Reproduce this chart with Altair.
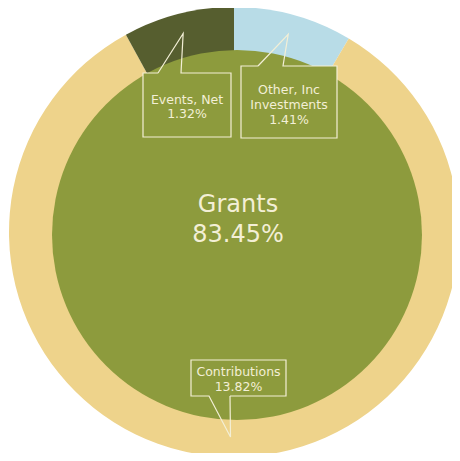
import math
import altair as alt
import pandas as pd

# ---- data ----
ring_labels = ["Other, Inc Investments", "Contributions", "Events, Net"]
ring_values = [1.41, 13.82, 1.32]
core_label = "Grants"
core_value = 83.45

# ---- layout / style ----
W, H = 444, 445
CX, CY = 226, 224          # ring centre
ICX, ICY = 229, 227        # inner circle centre
R_OUT, R_IN = 225, 185
R_TIP = 205
COLORS = {"Other, Inc Investments": "#B8DCE7", "Contributions": "#EED38B",
          "Events, Net": "#565E2F", "Grants": "#8D9B3D"}
CREAM = "#F3EFD6"
FONT = "DejaVu Sans"

# callout boxes (chart px): x0, x1, y0, y1, base xs, edge ("top"/"bottom"), text lines' baselines
boxes = {
    "Events, Net": dict(x0=135, x1=223, y0=65, y1=129, b=(150, 173), edge="top",
                        lines=["Events, Net", None], ys=[96, 110]),
    "Other, Inc Investments": dict(x0=233, x1=329, y0=58, y1=130, b=(250, 275), edge="top",
                                   lines=["Other, Inc", "Investments", None], ys=[86, 101, 116]),
    "Contributions": dict(x0=183, x1=278, y0=352, y1=388, b=(201, 222), edge="bottom",
                          lines=["Contributions", None], ys=[368, 383]),
}

ring_df = pd.DataFrame({"label": ring_labels, "value": ring_values,
                        "ord": list(range(len(ring_labels)))})
core_df = pd.DataFrame({"label": [core_label], "value": [core_value]})

# tip positions at mid-angle of each ring wedge
total = sum(ring_values)
tips = {}
acc = 0.0
for lab, v in zip(ring_labels, ring_values):
    mid = (acc + v / 2) / total * 2 * math.pi
    tips[lab] = (CX + R_TIP * math.sin(mid), CY - R_TIP * math.cos(mid))
    acc += v

rect_rows, line_rows, text_rows = [], [], []
for lab, v in zip(ring_labels, ring_values):
    b = boxes[lab]
    rect_rows.append(dict(label=lab, x0=b["x0"], x1=b["x1"], y0=b["y0"], y1=b["y1"]))
    tx, ty = tips[lab]
    if b["edge"] == "top":
        ey = b["y0"]
        pts = [(b["b"][0], ey), (tx, ty), (b["b"][1], ey), (b["x1"], ey),
               (b["x1"], b["y1"]), (b["x0"], b["y1"]), (b["x0"], ey), (b["b"][0], ey)]
    else:
        ey = b["y1"]
        pts = [(b["b"][1], ey), (tx, ty), (b["b"][0], ey), (b["x0"], ey),
               (b["x0"], b["y0"]), (b["x1"], b["y0"]), (b["x1"], ey), (b["b"][1], ey)]
    for i, (px, py) in enumerate(pts):
        line_rows.append(dict(label=lab, i=i, x=px, y=py))
    for t, yy in zip(b["lines"], b["ys"]):
        text_rows.append(dict(label=lab, text=t if t else f"{v:.2f}%",
                              x=(b["x0"] + b["x1"]) / 2, y=yy, size=12.5))
text_rows.append(dict(label=core_label, text=core_label, x=230, y=204, size=24))
text_rows.append(dict(label=core_label, text=f"{core_value:.2f}%", x=230, y=234, size=24))

rect_df = pd.DataFrame(rect_rows)
line_df = pd.DataFrame(line_rows)
text_df = pd.DataFrame(text_rows)

color_scale = alt.Scale(domain=list(COLORS.keys()), range=list(COLORS.values()))
xs = alt.Scale(domain=[0, W], nice=False, zero=False)
ys = alt.Scale(domain=[0, H], nice=False, zero=False, reverse=True)

ring = alt.Chart(ring_df).mark_arc(outerRadius=R_OUT).encode(
    theta=alt.Theta("value:Q", stack=True),
    order=alt.Order("ord:Q"),
    color=alt.Color("label:N", scale=color_scale, legend=None),
    x=alt.value(CX), y=alt.value(CY),
)
core = alt.Chart(core_df).mark_arc(outerRadius=R_IN).encode(
    theta=alt.Theta("value:Q", stack=True),
    color=alt.Color("label:N", scale=color_scale, legend=None),
    x=alt.value(ICX), y=alt.value(ICY),
)
rects = alt.Chart(rect_df).mark_rect(fill=COLORS["Grants"]).encode(
    x=alt.X("x0:Q", scale=xs, axis=None), x2="x1:Q",
    y=alt.Y("y0:Q", scale=ys, axis=None), y2="y1:Q",
)
outlines = alt.Chart(line_df).mark_line(color=CREAM, strokeWidth=1.2).encode(
    x=alt.X("x:Q", scale=xs, axis=None),
    y=alt.Y("y:Q", scale=ys, axis=None),
    order="i:Q", detail="label:N",
)
texts = alt.Chart(text_df).mark_text(color=CREAM, font=FONT, align="center",
                                     baseline="alphabetic").encode(
    x=alt.X("x:Q", scale=xs, axis=None),
    y=alt.Y("y:Q", scale=ys, axis=None),
    text="text:N",
    size=alt.Size("size:Q", scale=None, legend=None),
)

chart = alt.layer(ring, core, rects, outlines, texts).resolve_scale(
    theta="independent"
).properties(
    width=W, height=H, padding=0, autosize="none"
).configure_view(stroke=None)

chart.save("out.html", embed_options={"renderer": "svg", "actions": False})
